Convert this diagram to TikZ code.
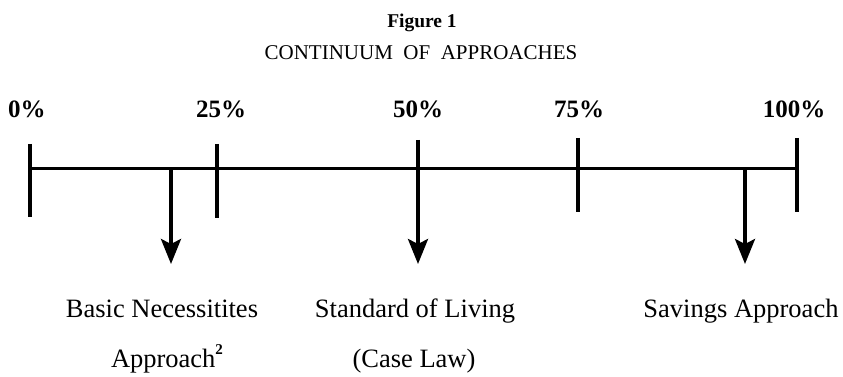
\documentclass[tikz,border=0pt]{standalone}
\usepackage{fontspec}
\setmainfont{Liberation Serif}
\usetikzlibrary{arrows.meta, positioning}

\begin{document}
\begin{tikzpicture}[
    x=1pt, y=-1pt,
    every node/.style={inner sep=0pt, anchor=base},
    % Main axis and tick marks
    axis/.style={line width=3pt},
    tickline/.style={line width=3.5pt},
    % Downward pointers
    pointer/.style={-{Stealth[length=25pt, width=20pt, inset=5pt]}, line width=3.5pt},
    pct/.style={font=\fontsize{25}{30}\selectfont\bfseries},
    lbl/.style={font=\fontsize{26.5}{32}\selectfont}
]
\useasboundingbox (0,0) rectangle (843,377);

% === TITLE ===
\node[font=\fontsize{19.5}{23}\selectfont\bfseries] (fig) at (422,28) {Figure 1};
\node[font=\fontsize{21}{25}\selectfont] (title) at (421,60) {CONTINUUM\ \ OF\ \ APPROACHES};

% === PERCENT LABELS ===
\node[pct] (p0)   at (27,118)  {0\%};
\node[pct] (p25)  at (221,118) {25\%};
\node[pct] (p50)  at (418,118) {50\%};
\node[pct] (p75)  at (579,118) {75\%};
\node[pct] (p100) at (794,118) {100\%};

% === AXIS ===
\coordinate (a0)   at (30,168);
\coordinate (a100) at (797,168);
\draw[axis] (a0) -- (a100);

% tick marks
\coordinate (t0top) at (30,144);   \coordinate (t0bot) at (30,217);
\coordinate (t25top) at (217,144); \coordinate (t25bot) at (217,218);
\coordinate (t75top) at (578,138); \coordinate (t75bot) at (578,212);
\coordinate (t100top) at (797,138);\coordinate (t100bot) at (797,212);
\draw[tickline] (t0top) -- (t0bot);
\draw[tickline] (t25top) -- (t25bot);
\draw[tickline] (t75top) -- (t75bot);
\draw[tickline] (t100top) -- (t100bot);

% === APPROACHES ===
\coordinate (basic)    at (171,168);
\coordinate (standard) at (418,140);
\coordinate (savings)  at (745,168);
\coordinate (basictip)    at (171,264);
\coordinate (standardtip) at (418,264);
\coordinate (savingstip)  at (745,264);
\draw[pointer] (basic) -- (basictip);
\draw[pointer] (standard) -- (standardtip);
\draw[pointer] (savings) -- (savingstip);

\node[lbl] (basic1)    at (162,317) {Basic Necessitites};
\node[lbl] (basic2)    at (167,367) {Approach\raisebox{1.0ex}{\fontsize{15}{17}\selectfont\bfseries 2}};
\node[lbl] (standard1) at (415,317) {Standard of Living};
\node[lbl] (standard2) at (414,367) {(Case Law)};
\node[lbl] (savings1)  at (741,317) {Savings Approach};

\end{tikzpicture}
\end{document}
